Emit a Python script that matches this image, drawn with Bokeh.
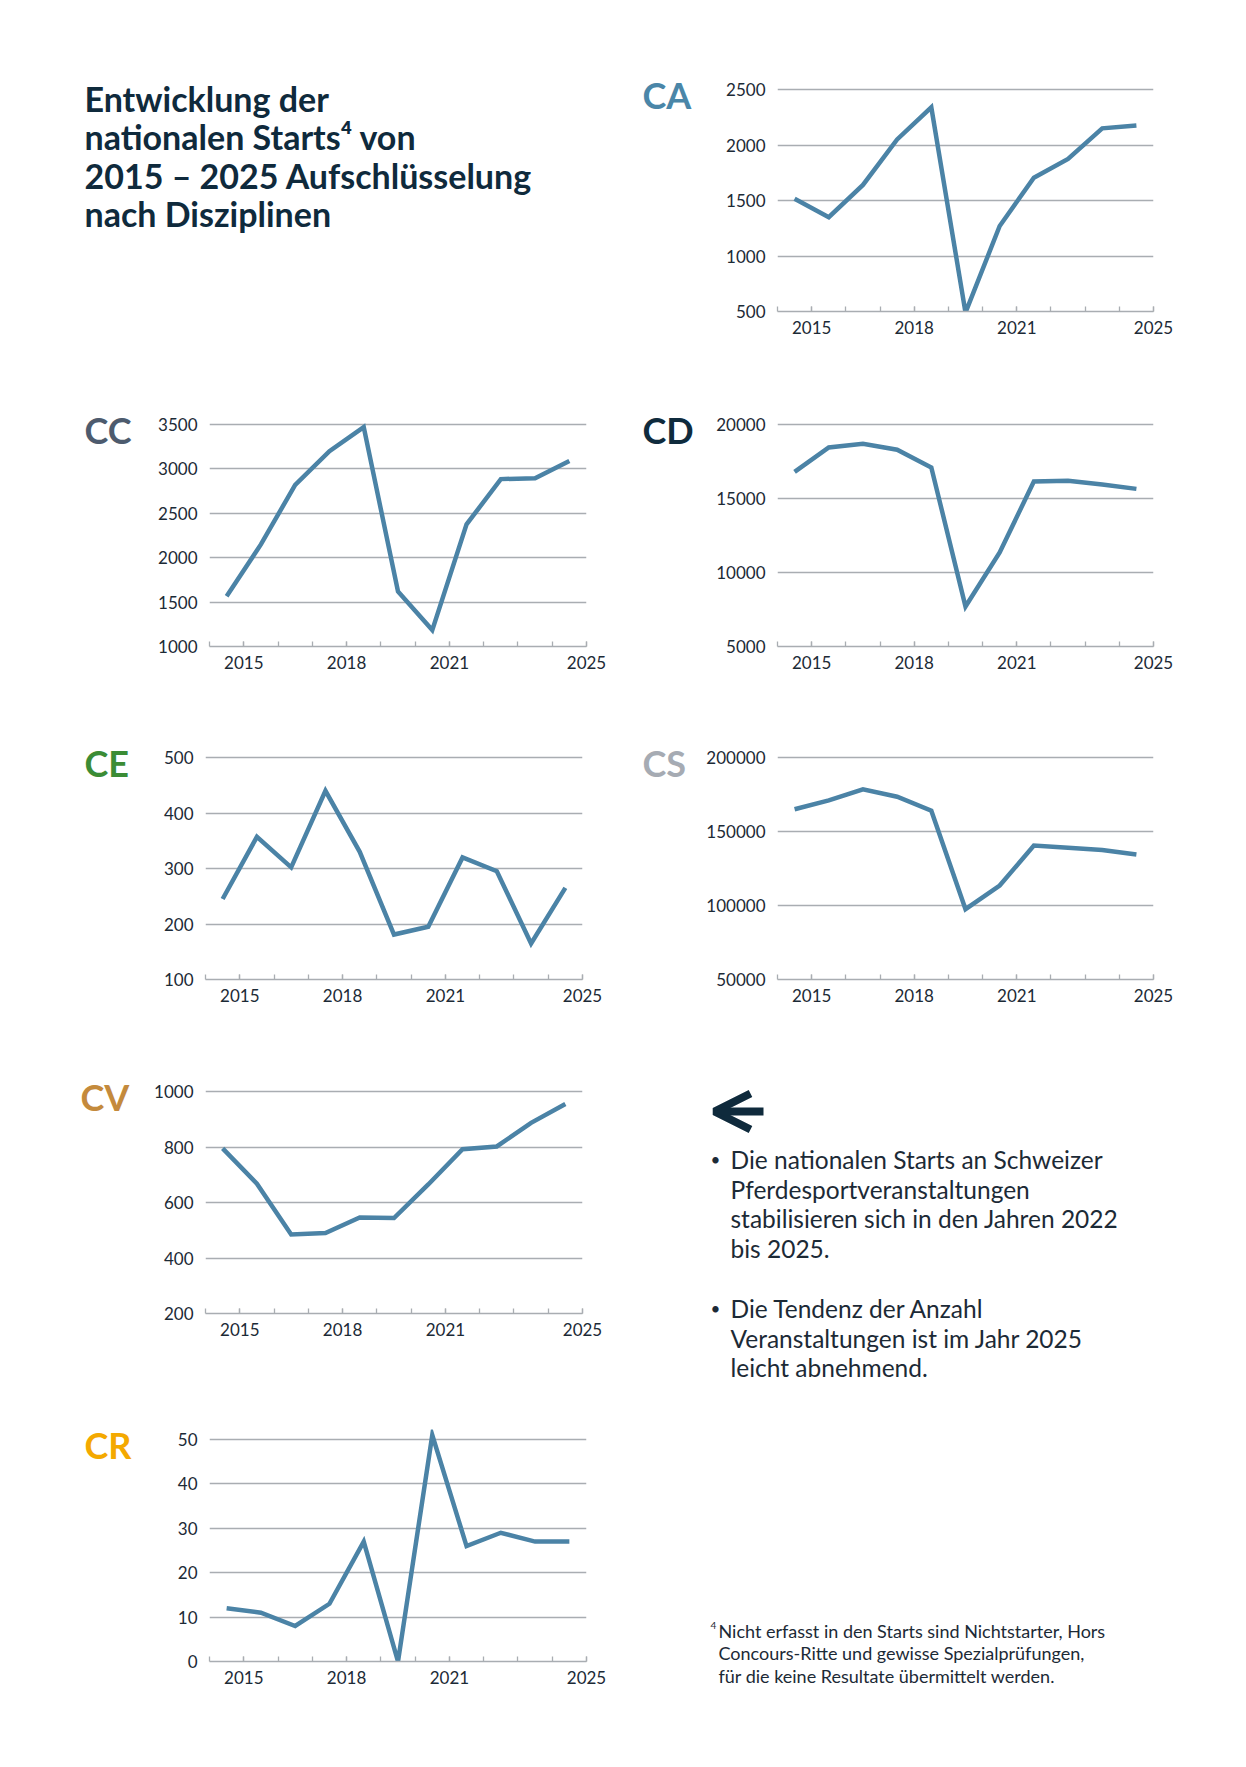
from bokeh.plotting import figure
from bokeh.layouts import column, row
from bokeh.models import Range1d, FixedTicker, BasicTickFormatter, Label, Arrow, OpenHead
from bokeh.embed import file_html
from bokeh.resources import INLINE

# ---------------- data ----------------
years = [2015, 2016, 2017, 2018, 2019, 2020, 2021, 2022, 2023, 2024, 2025]
label_years = [2015, 2018, 2021, 2025]

ca_values = [1515, 1350, 1640, 2050, 2340, 490, 1270, 1705, 1875, 2150, 2175]
cc_values = [1565, 2150, 2820, 3200, 3470, 1620, 1185, 2375, 2885, 2895, 3090]
cd_values = [16800, 18450, 18700, 18300, 17100, 7700, 11350, 16150, 16200, 15950, 15650]
ce_values = [245, 357, 302, 440, 330, 181, 195, 320, 295, 165, 265]
cs_values = [165000, 171000, 178500, 173500, 164000, 97500, 113500, 140500, 139000, 137500, 134500]
cv_values = [795, 668, 485, 490, 546, 544, 665, 792, 802, 887, 955]
cr_values = [12, 11, 8, 13, 27, 0, 51, 26, 29, 27, 27]

ca_ticks = [500, 1000, 1500, 2000, 2500]
cc_ticks = [1000, 1500, 2000, 2500, 3000, 3500]
cd_ticks = [5000, 10000, 15000, 20000]
ce_ticks = [100, 200, 300, 400, 500]
cs_ticks = [50000, 100000, 150000, 200000]
cv_ticks = [200, 400, 600, 800, 1000]
cr_ticks = [0, 10, 20, 30, 40, 50]

title_lines = ["Entwicklung der", "nationalen Starts\u2074 von",
               "2015 \u2013 2025 Aufschlüsselung", "nach Disziplinen"]
bullet1 = ["Die nationalen Starts an Schweizer", "Pferdesportveranstaltungen",
           "stabilisieren sich in den Jahren 2022", "bis 2025."]
bullet2 = ["Die Tendenz der Anzahl", "Veranstaltungen ist im Jahr 2025",
           "leicht abnehmend."]
footnote = ["Nicht erfasst in den Starts sind Nichtstarter, Hors",
            "Concours-Ritte und gewisse Spezialprüfungen,",
            "für die keine Resultate übermittelt werden."]

# ---------------- styles ----------------
FONT = "Lato"
LINE = "#4b83a6"
GRID = "#a9adb2"
TXT = "#1c2a36"
NAVY = "#0f2a3c"
SPAN_PX = 222
PAD_PX = 10
FRAME_H = SPAN_PX + PAD_PX
TICK_FS = "17px"


def panel(values, yticks, width, height, bl, br, bt, bb):
    span = yticks[-1] - yticks[0]
    top = yticks[-1] + span * PAD_PX / SPAN_PX
    p = figure(width=width, height=height, title=None,
               x_range=Range1d(years[0] - 1, years[-1]),
               y_range=Range1d(yticks[0], top),
               output_backend="svg", toolbar_location=None,
               min_border_left=bl, min_border_right=br,
               min_border_top=bt, min_border_bottom=bb)
    p.outline_line_color = None
    p.xgrid.visible = False
    p.ygrid.grid_line_color = GRID
    p.ygrid.grid_line_width = 1.3

    xa = p.xaxis[0]
    xa.ticker = FixedTicker(ticks=label_years, minor_ticks=[years[0] - 1] + years)
    xa.axis_line_color = GRID
    xa.axis_line_width = 1.3
    xa.major_tick_in = 5
    xa.major_tick_out = 0
    xa.minor_tick_in = 5
    xa.minor_tick_out = 0
    xa.major_tick_line_color = GRID
    xa.minor_tick_line_color = GRID
    xa.major_tick_line_width = 1.3
    xa.minor_tick_line_width = 1.3
    xa.major_label_standoff = 9
    xa.major_label_text_font = FONT
    xa.major_label_text_font_size = TICK_FS
    xa.major_label_text_color = TXT

    ya = p.yaxis[0]
    ya.ticker = FixedTicker(ticks=yticks)
    ya.formatter = BasicTickFormatter(use_scientific=False)
    ya.axis_line_color = None
    ya.major_tick_line_color = None
    ya.minor_tick_line_color = None
    ya.major_label_standoff = 6
    ya.major_label_text_font = FONT
    ya.major_label_text_font_size = TICK_FS
    ya.major_label_text_color = TXT

    xs = [y - 0.5 for y in years]
    p.line(xs, values, line_color=LINE, line_width=4.5, line_join="miter")
    return p


def blank(width, height, bt=0, bb=0):
    fh = height - bt - bb
    p = figure(width=width, height=height, title=None,
               x_range=Range1d(0, width), y_range=Range1d(fh, 0),
               x_axis_type=None, y_axis_type=None,
               output_backend="svg", toolbar_location=None,
               min_border_left=0, min_border_right=0,
               min_border_top=bt, min_border_bottom=bb)
    p.outline_line_color = None
    p.xgrid.visible = False
    p.ygrid.visible = False
    return p


def tag(name, color, width, height, bt, bb, x):
    p = blank(width, height, bt, bb)
    p.add_layout(Label(x=x, y=15, text=name, text_font=FONT,
                       text_font_size="36px", text_font_style="bold",
                       text_color=color, text_baseline="alphabetic",
                       text_align="left"))
    return p


LTAG, LCH = 145, 487    # left column: tag width, chart width
RTAG, RCH = 65, 533     # right column

# Row 1
H1, B1 = 362, 51
T1 = H1 - B1 - FRAME_H
title_fig = blank(632, H1, T1, B1)
for i, t in enumerate(title_lines):
    title_fig.add_layout(Label(x=84, y=19 + i * 38.4, text=t, text_font=FONT,
                               text_font_size="34px", text_font_style="bold",
                               text_color=NAVY, text_baseline="alphabetic"))
ca_tag = tag("CA", "#4a86a8", RTAG, H1, T1, B1, 10)
ca = panel(ca_values, ca_ticks, RCH, H1, 80, 77, T1, B1)

# Row 2
H2, B2 = 336, 52
T2 = H2 - B2 - FRAME_H
cc_tag = tag("CC", "#4d5b6e", LTAG, H2, T2, B2, 84)
cc = panel(cc_values, cc_ticks, LCH, H2, 64, 46, T2, B2)
cd_tag = tag("CD", "#0f2b3d", RTAG, H2, T2, B2, 10)
cd = panel(cd_values, cd_ticks, RCH, H2, 80, 77, T2, B2)

# Row 3
H3, B3 = 334, 53
T3 = H3 - B3 - FRAME_H
ce_tag = tag("CE", "#3b8c35", LTAG, H3, T3, B3, 84)
ce = panel(ce_values, ce_ticks, LCH, H3, 60, 50, T3, B3)
cs_tag = tag("CS", "#a6abb3", RTAG, H3, T3, B3, 10)
cs = panel(cs_values, cs_ticks, RCH, H3, 80, 77, T3, B3)

# Row 4 / 5
H4, B4 = 345, 64
T4 = H4 - B4 - FRAME_H
cv_tag = tag("CV", "#c48a3c", LTAG, H4, T4, B4, 80)
cv = panel(cv_values, cv_ticks, LCH, H4, 60, 50, T4, B4)
H5, B5 = 365, 81
T5 = H5 - B5 - FRAME_H
cr_tag = tag("CR", "#f4a900", LTAG, H5, T5, B5, 84)
cr = panel(cr_values, cr_ticks, LCH, H5, 64, 46, T5, B5)

txt = blank(598, H4 + H5)
txt.add_layout(Arrow(x_start=131, y_start=79, x_end=82, y_end=79,
                     line_color=NAVY, line_width=8,
                     end=OpenHead(size=36, line_width=8, line_color=NAVY)))
for block, base in ((bullet1, 127), (bullet2, 276)):
    txt.add_layout(Label(x=78, y=base, text="\u2022", text_font=FONT, text_font_size="17px",
                         text_color=TXT, text_baseline="alphabetic"))
    for i, t in enumerate(block):
        txt.add_layout(Label(x=98, y=base + i * 29.6, text=t, text_font=FONT,
                             text_font_size="24.5px", text_color=TXT,
                             text_baseline="alphabetic"))
txt.add_layout(Label(x=78, y=593, text="4", text_font=FONT, text_font_size="10px",
                     text_color=TXT, text_baseline="alphabetic"))
for i, t in enumerate(footnote):
    txt.add_layout(Label(x=86, y=598 + i * 22.5, text=t, text_font=FONT,
                         text_font_size="18px", text_color=TXT,
                         text_baseline="alphabetic"))

layout = column(row(title_fig, ca_tag, ca),
                row(cc_tag, cc, cd_tag, cd),
                row(ce_tag, ce, cs_tag, cs),
                row(column(row(cv_tag, cv), row(cr_tag, cr)), txt))

open("out.html", "w").write(file_html(layout, INLINE))
